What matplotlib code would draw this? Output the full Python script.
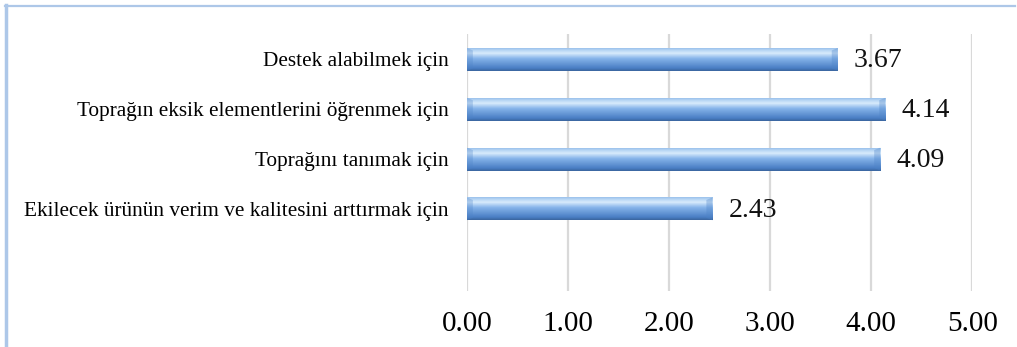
import numpy as np
import matplotlib
matplotlib.use("Agg")
import matplotlib.pyplot as plt
from matplotlib.colors import LinearSegmentedColormap
from matplotlib.lines import Line2D
from matplotlib.patches import Polygon

# reasons for soil analysis, top to bottom; last slot left empty
categories = ["Destek alabilmek için",
              "Toprağın eksik elementlerini öğrenmek için",
              "Toprağını tanımak için",
              "Ekilecek ürünün verim ve kalitesini arttırmak için",
              ""]
scores = [3.67, 4.14, 4.09, 2.43, 0.0]
ticks = [0, 1, 2, 3, 4, 5]

plt.rcParams["font.family"] = ["Liberation Serif", "DejaVu Serif"]

fig = plt.figure(figsize=(10.17, 3.47), dpi=100)
ax = fig.add_axes([0.459, 0.161, 0.497, 0.741])

ypos = np.arange(len(categories))[::-1]
bar_h = 0.46
bars = ax.barh(ypos, scores, height=bar_h, color="none", edgecolor="none", zorder=3)

# vertical shading for the bars (top light, bottom dark)
shade = LinearSegmentedColormap.from_list(
    "shade", [(0.0, "#3a659f"), (0.12, "#4a7ec4"), (0.55, "#86b4ea"),
              (0.78, "#d8ebfc"), (0.92, "#b4d4f3"), (1.0, "#9cc2ec")])
grad = np.linspace(0, 1, 64).reshape(-1, 1)

for b, v, y in zip(bars, scores, ypos):
    if v <= 0:
        continue
    im = ax.imshow(grad, cmap=shade, origin="lower", aspect="auto",
                   extent=(0, v, y - bar_h / 2, y + bar_h / 2), zorder=3)
    im.set_clip_path(b)
    # bevelled ends
    e = 0.06
    ax.add_patch(Polygon([(v - e, y - bar_h / 2 + 0.05), (v, y - bar_h / 2),
                          (v, y + bar_h / 2), (v - e, y + bar_h / 2 - 0.05)],
                         closed=True, facecolor="#4f84c8", alpha=0.35,
                         edgecolor="none", zorder=4))
    ax.add_patch(Polygon([(0, y - bar_h / 2), (e, y - bar_h / 2 + 0.05),
                          (e, y + bar_h / 2 - 0.05), (0, y + bar_h / 2)],
                         closed=True, facecolor="#4f84c8", alpha=0.3,
                         edgecolor="none", zorder=4))
    ax.text(v + 0.16, y - 0.03, "{:.2f}".format(v), va="center", ha="left",
            fontsize=20, color="#111111", zorder=5)

ax.set_xlim(0, 5)
ax.set_ylim(-0.65, 4.51)
ax.set_xticks(ticks)
ax.set_xticklabels(["{:.2f}".format(t) for t in ticks], fontsize=21)
ax.set_yticks(ypos)
ax.set_yticklabels(categories, fontsize=15.3)
ax.tick_params(axis="both", length=0)
ax.tick_params(axis="x", pad=14)
ax.tick_params(axis="y", pad=13)
ax.xaxis.grid(True, color="#d9d9d9", linewidth=1.6, zorder=0)
ax.set_axisbelow(True)
for s in ax.spines.values():
    s.set_visible(False)

# outer frame (left and top only)
fig.add_artist(Line2D([6 / 1017, 6 / 1017], [0, 1 - 5 / 347], transform=fig.transFigure,
                      color="#adc7e8", linewidth=2.5))
fig.add_artist(Line2D([5 / 1017, 1015 / 1017], [1 - 5.5 / 347, 1 - 5.5 / 347],
                      transform=fig.transFigure, color="#adc7e8", linewidth=1.6))

fig.savefig("out.png", dpi=100)
